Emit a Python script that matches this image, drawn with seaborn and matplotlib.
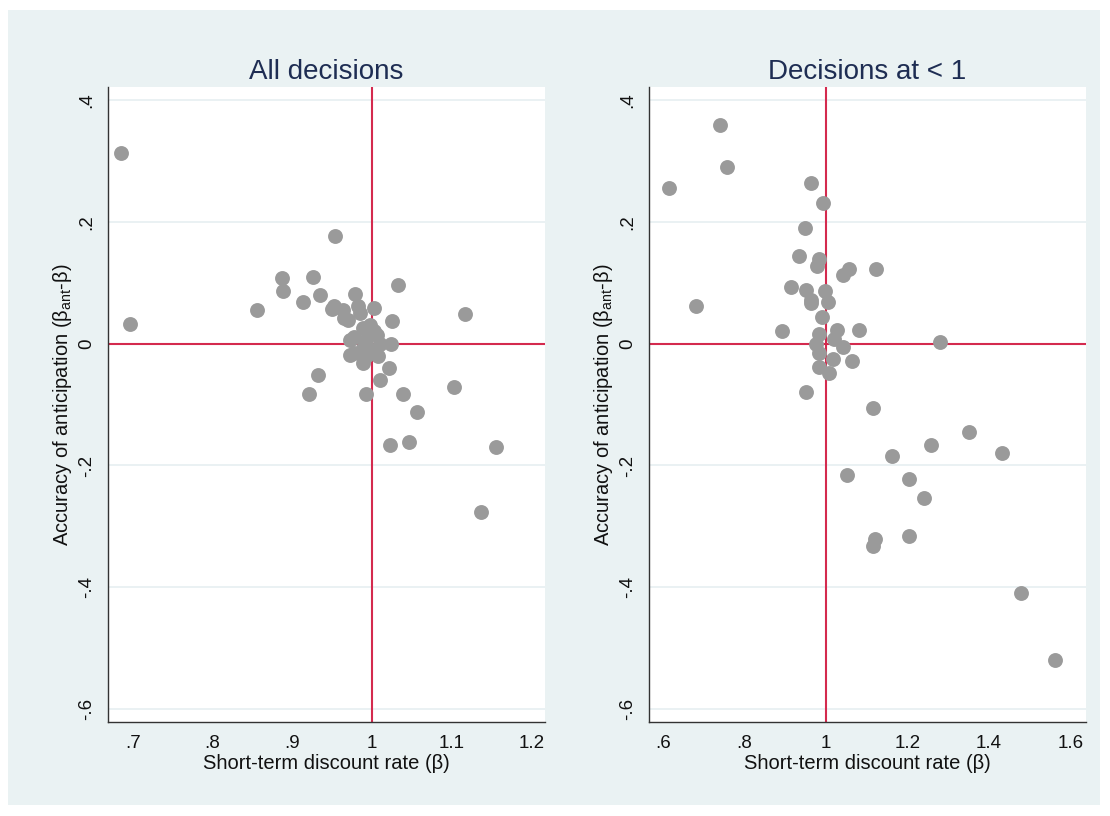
import matplotlib
matplotlib.use("Agg")
import matplotlib.pyplot as plt
import seaborn as sns
from matplotlib.patches import Rectangle

# All decisions panel
all_beta = [0.685, 0.696, 0.856, 0.887, 0.889, 0.926, 0.914, 0.935, 0.954, 0.952,
            0.950, 0.964, 0.965, 0.970, 0.979, 0.982, 0.985, 1.003, 1.033, 1.025,
            1.117, 0.997, 0.989, 0.977, 0.972, 1.006, 1.010, 0.993, 0.989, 1.004,
            0.977, 0.993, 0.989, 1.008, 1.024, 0.972, 1.002, 0.932, 0.921, 0.992,
            1.021, 1.010, 1.039, 1.057, 1.103, 1.023, 1.047, 1.155, 1.137]
all_acc = [0.313, 0.032, 0.055, 0.107, 0.086, 0.110, 0.069, 0.079, 0.177, 0.062,
           0.057, 0.055, 0.042, 0.039, 0.081, 0.062, 0.050, 0.059, 0.096, 0.037,
           0.049, 0.030, 0.025, 0.011, 0.006, 0.014, 0.000, 0.006, -0.008, -0.010,
           -0.016, -0.021, -0.032, -0.021, 0.000, -0.018, 0.020, -0.052, -0.083, -0.083,
           -0.040, -0.060, -0.083, -0.113, -0.071, -0.166, -0.162, -0.170, -0.277]

# Decisions at < 1 panel
lt1_beta = [0.740, 0.758, 0.615, 0.963, 0.993, 0.949, 0.934, 0.982, 0.979, 1.057,
            1.042, 1.123, 0.914, 0.952, 0.997, 0.963, 0.964, 1.004, 0.681, 0.990,
            0.893, 0.982, 1.026, 1.020, 1.082, 0.976, 1.280, 1.043, 0.982, 1.018,
            1.064, 0.982, 1.008, 0.950, 1.115, 1.351, 1.257, 1.432, 1.162, 1.052,
            1.203, 1.241, 1.121, 1.115, 1.203, 1.479, 1.562]
lt1_acc = [0.359, 0.289, 0.256, 0.264, 0.230, 0.189, 0.144, 0.139, 0.128, 0.122,
           0.113, 0.122, 0.092, 0.088, 0.086, 0.072, 0.067, 0.069, 0.061, 0.044,
           0.020, 0.016, 0.022, 0.008, 0.023, 0.000, 0.002, -0.006, -0.016, -0.026,
           -0.028, -0.038, -0.048, -0.080, -0.105, -0.145, -0.166, -0.179, -0.184, -0.216,
           -0.222, -0.254, -0.320, -0.332, -0.316, -0.409, -0.520]

y_ticks = [0.4, 0.2, 0.0, -0.2, -0.4, -0.6]
y_labels = [".4", ".2", "0", "-.2", "-.4", "-.6"]
left_x_ticks = [0.7, 0.8, 0.9, 1.0, 1.1, 1.2]
left_x_labels = [".7", ".8", ".9", "1", "1.1", "1.2"]
right_x_ticks = [0.6, 0.8, 1.0, 1.2, 1.4, 1.6]
right_x_labels = [".6", ".8", "1", "1.2", "1.4", "1.6"]

sns.set_style("white")
plt.rcParams["font.family"] = ["Liberation Sans", "DejaVu Sans"]
plt.rcParams["mathtext.fontset"] = "custom"
plt.rcParams["mathtext.rm"] = "Liberation Sans"

BG = "#EAF2F3"
RED = "#D42A4E"
GRAY = "#9A9A9A"

fig = plt.figure(figsize=(11.1, 8.16), dpi=100, facecolor="white")
fig.patches.append(Rectangle((8 / 1110, 1 - 805 / 816), 1092 / 1110, 795 / 816,
                             transform=fig.transFigure, facecolor=BG,
                             edgecolor="none", zorder=-10))

panels = [
    (108, "All decisions", all_beta, all_acc, (0.669, 1.217), left_x_ticks, left_x_labels),
    (649, "Decisions at < 1", lt1_beta, lt1_acc, (0.566, 1.638), right_x_ticks, right_x_labels),
]

for left_px, title, xs, ys, xlim, xt, xl in panels:
    ax = fig.add_axes([left_px / 1110, 1 - 722 / 816, 437 / 1110, 635 / 816])
    ax.set_facecolor("white")
    for y in y_ticks:
        ax.axhline(y, color="#E6EFF1", lw=1.2, zorder=0)
    ax.axvline(1, color=RED, lw=1.5, zorder=1)
    ax.axhline(0, color=RED, lw=1.5, zorder=1)
    sns.scatterplot(x=xs, y=ys, ax=ax, color=GRAY, s=115, linewidth=0, zorder=3)
    ax.set_xlim(*xlim)
    ax.set_ylim(-0.621, 0.421)
    ax.set_yticks(y_ticks)
    ax.set_yticklabels(y_labels, rotation=90, va="center")
    ax.set_xticks(xt)
    ax.set_xticklabels(xl)
    ax.tick_params(axis="both", labelsize=13.5, length=5, width=1, color="#333333",
                   labelcolor="#111111", direction="out", pad=4)
    for side in ["top", "right"]:
        ax.spines[side].set_visible(False)
    for side in ["left", "bottom"]:
        ax.spines[side].set_color("#333333")
        ax.spines[side].set_linewidth(1)
    ax.set_title(title, fontsize=20, color="#1E2D53", pad=6)
    ax.set_xlabel("Short-term discount rate (β)", fontsize=14.5, color="#111111", labelpad=2)
    ax.set_ylabel("Accuracy of anticipation (β$_{\\mathrm{ant}}$-β)", fontsize=14.5,
                  color="#111111", labelpad=3)

fig.savefig("out.png", dpi=100, facecolor="white")
